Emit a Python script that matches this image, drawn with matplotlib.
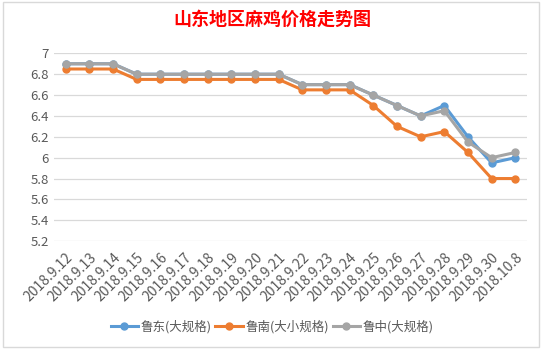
import matplotlib.pyplot as plt
from matplotlib.patches import Rectangle

plt.rcParams['font.family'] = ['Noto Sans CJK SC', 'DejaVu Sans']

dates = ["2018.9.12", "2018.9.13", "2018.9.14", "2018.9.15", "2018.9.16",
         "2018.9.17", "2018.9.18", "2018.9.19", "2018.9.20", "2018.9.21",
         "2018.9.22", "2018.9.23", "2018.9.24", "2018.9.25", "2018.9.26",
         "2018.9.27", "2018.9.28", "2018.9.29", "2018.9.30", "2018.10.8"]
ludong = [6.9, 6.9, 6.9, 6.8, 6.8, 6.8, 6.8, 6.8, 6.8, 6.8,
          6.7, 6.7, 6.7, 6.6, 6.5, 6.4, 6.5, 6.2, 5.95, 6.0]
lunan = [6.85, 6.85, 6.85, 6.75, 6.75, 6.75, 6.75, 6.75, 6.75, 6.75,
         6.65, 6.65, 6.65, 6.5, 6.3, 6.2, 6.25, 6.05, 5.8, 5.8]
luzhong = [6.9, 6.9, 6.9, 6.8, 6.8, 6.8, 6.8, 6.8, 6.8, 6.8,
           6.7, 6.7, 6.7, 6.6, 6.5, 6.4, 6.45, 6.15, 6.0, 6.05]

series = [("鲁东(大规格)", ludong, "#5B9BD5"),
          ("鲁南(大小规格)", lunan, "#ED7D31"),
          ("鲁中(大规格)", luzhong, "#A5A5A5")]

fig = plt.figure(figsize=(5.44, 3.51), dpi=100)
ax = fig.add_axes([0.099, 0.313, 0.87, 0.535])

x = list(range(len(dates)))
for name, vals, color in series:
    ax.plot(x, vals, color=color, lw=2.2, marker="o", markersize=5, label=name)

ax.set_xlim(-0.5, len(dates) - 0.5)
ax.set_ylim(5.2, 7.0)
ax.set_yticks([5.2, 5.4, 5.6, 5.8, 6.0, 6.2, 6.4, 6.6, 6.8, 7.0])
ax.set_yticklabels(["5.2", "5.4", "5.6", "5.8", "6", "6.2", "6.4", "6.6", "6.8", "7"])
ax.set_xticks(x)
ax.set_xticklabels(dates, rotation=45, ha="right", rotation_mode="anchor")
ax.tick_params(length=0, colors="#595959", labelsize=9.5)
ax.tick_params(axis="x", pad=7, labelsize=10)
ax.grid(axis="y", color="#D9D9D9", lw=0.9)
ax.set_axisbelow(True)
for s in ax.spines.values():
    s.set_visible(False)

fig.text(0.5, 0.945, "山东地区麻鸡价格走势图", color="red", fontsize=13,
         fontweight="bold", ha="center", va="center")

fig.legend(loc="center", bbox_to_anchor=(0.5, 0.068), ncol=3, frameon=False,
           fontsize=9, handlelength=2.2, columnspacing=0.3, handletextpad=0.2,
           labelcolor="#595959")

fig.patches.append(Rectangle((0.005, 0.01), 0.985, 0.985, transform=fig.transFigure,
                             fill=False, edgecolor="#D9D9D9", lw=1))

fig.savefig("out.png", dpi=100)
